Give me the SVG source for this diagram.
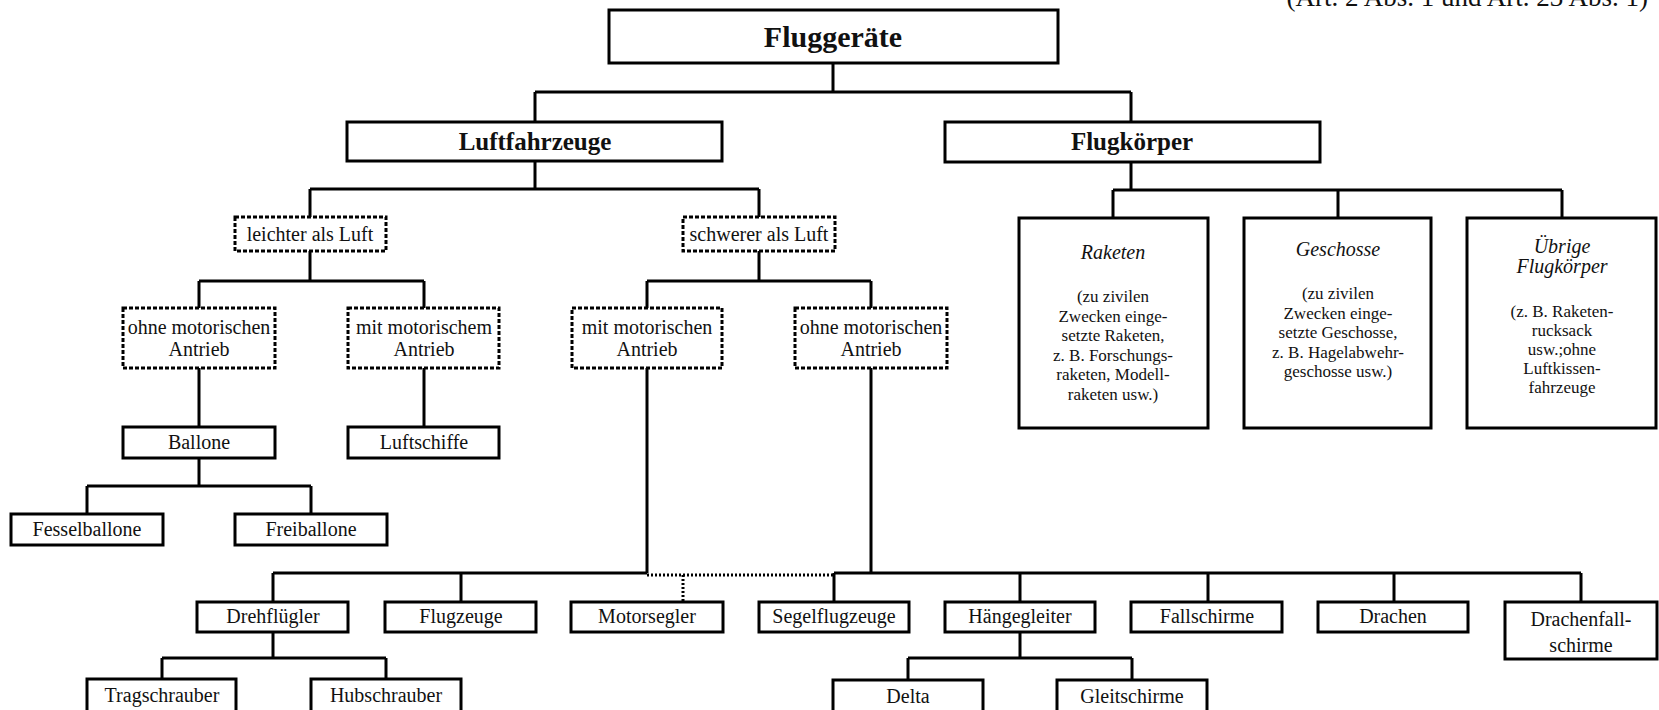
<svg xmlns="http://www.w3.org/2000/svg" width="1659" height="710" viewBox="0 0 1659 710">
<style>
text{font-family:"Liberation Serif","Times New Roman",serif;fill:#111;text-anchor:middle}
.b{fill:#fff;stroke:#000;stroke-width:3}
.d{fill:#fff;stroke:#000;stroke-width:3;stroke-dasharray:4 2}
.t{font-size:20px}
.s{font-size:17px}
.i{font-size:20px;font-style:italic}
.h{font-weight:bold}
.c path{fill:none;stroke:#000;stroke-width:3}
.c .dot{stroke-dasharray:2 2}
</style>
<rect width="1659" height="710" fill="#fff"/>
<text x="1648" y="6" style="font-size:27px;text-anchor:end">(Art. 2 Abs. 1 und Art. 23 Abs. 1)</text>
<g class="c" id="connectors">
<path d="M833 63V92M535 92H1131M535 92V122M1131 92V122"/>
<path d="M535 161V189M310 189H759M310 189V217M759 189V217"/>
<path d="M1131 162V190M1113 190H1562M1113 190V218M1338 190V218M1562 190V218"/>
<path d="M310 251V281M199 281H424M199 281V308M424 281V308"/>
<path d="M759 251V281M647 281H871M647 281V308M871 281V308"/>
<path d="M199 368V427M424 368V427"/>
<path d="M199 458V486M87 486H311M87 486V514M311 486V514"/>
<path d="M647 368V573M871 368V573"/>
<path d="M273 573H647M834 573H1581"/>
<path class="dot" d="M647 575H834M683 575V602"/>
<path d="M273 573V602M461 573V602M834 573V602M1020 573V602M1208 573V602M1394 573V602M1581 573V602"/>
<path d="M273 632V658M162 658H386M162 658V679M386 658V679"/>
<path d="M1020 632V658M908 658H1132M908 658V679M1132 658V679"/>
</g>
<g id="n-fluggeraete"><rect class="b" x="609" y="10" width="449" height="53"/><text class="h" x="833" y="47" style="font-size:30px">Fluggeräte</text></g>
<g id="n-luftfahrzeuge"><rect class="b" x="347" y="122" width="375" height="39"/><text class="h" x="535" y="150" style="font-size:25px">Luftfahrzeuge</text></g>
<g id="n-flugkoerper"><rect class="b" x="945" y="122" width="375" height="40"/><text class="h" x="1132" y="150" style="font-size:25px">Flugkörper</text></g>
<g id="n-leichter"><rect class="d" x="235" y="217" width="151" height="34"/><text class="t" x="310" y="241">leichter als Luft</text></g>
<g id="n-schwerer"><rect class="d" x="683" y="217" width="152" height="34"/><text class="t" x="759" y="241">schwerer als Luft</text></g>
<g id="n-ohne1"><rect class="d" x="123" y="308" width="152" height="60"/><text class="t" x="199" y="334">ohne motorischen</text><text class="t" x="199" y="356">Antrieb</text></g>
<g id="n-mit1"><rect class="d" x="348" y="308" width="151" height="60"/><text class="t" x="424" y="334">mit motorischem</text><text class="t" x="424" y="356">Antrieb</text></g>
<g id="n-mit2"><rect class="d" x="572" y="308" width="150" height="60"/><text class="t" x="647" y="334">mit motorischen</text><text class="t" x="647" y="356">Antrieb</text></g>
<g id="n-ohne2"><rect class="d" x="795" y="308" width="152" height="60"/><text class="t" x="871" y="334">ohne motorischen</text><text class="t" x="871" y="356">Antrieb</text></g>
<g id="n-raketen"><rect class="b" x="1019" y="218" width="189" height="210"/><text class="i" x="1113" y="259">Raketen</text><text class="s" x="1113" y="302">(zu zivilen</text><text class="s" x="1113" y="321.5">Zwecken einge-</text><text class="s" x="1113" y="341">setzte Raketen,</text><text class="s" x="1113" y="360.5">z. B. Forschungs-</text><text class="s" x="1113" y="380">raketen, Modell-</text><text class="s" x="1113" y="399.5">raketen usw.)</text></g>
<g id="n-geschosse"><rect class="b" x="1244" y="218" width="187" height="210"/><text class="i" x="1338" y="256">Geschosse</text><text class="s" x="1338" y="299">(zu zivilen</text><text class="s" x="1338" y="318.5">Zwecken einge-</text><text class="s" x="1338" y="338">setzte Geschosse,</text><text class="s" x="1338" y="357.5">z. B. Hagelabwehr-</text><text class="s" x="1338" y="377">geschosse usw.)</text></g>
<g id="n-uebrige"><rect class="b" x="1467" y="218" width="189" height="210"/><text class="i" x="1562" y="253">Übrige</text><text class="i" x="1562" y="273">Flugkörper</text><text class="s" x="1562" y="317">(z. B. Raketen-</text><text class="s" x="1562" y="336">rucksack</text><text class="s" x="1562" y="355">usw.;ohne</text><text class="s" x="1562" y="374">Luftkissen-</text><text class="s" x="1562" y="393">fahrzeuge</text></g>
<g id="n-ballone"><rect class="b" x="123" y="427" width="152" height="31"/><text class="t" x="199" y="449">Ballone</text></g>
<g id="n-luftschiffe"><rect class="b" x="348" y="427" width="151" height="31"/><text class="t" x="424" y="449">Luftschiffe</text></g>
<g id="n-fesselballone"><rect class="b" x="11" y="514" width="152" height="31"/><text class="t" x="87" y="536">Fesselballone</text></g>
<g id="n-freiballone"><rect class="b" x="235" y="514" width="152" height="31"/><text class="t" x="311" y="536">Freiballone</text></g>
<g id="n-drehfluegler"><rect class="b" x="197" y="602" width="151" height="30"/><text class="t" x="273" y="623">Drehflügler</text></g>
<g id="n-flugzeuge"><rect class="b" x="385" y="602" width="151" height="30"/><text class="t" x="461" y="623">Flugzeuge</text></g>
<g id="n-motorsegler"><rect class="b" x="571" y="602" width="152" height="30"/><text class="t" x="647" y="623">Motorsegler</text></g>
<g id="n-segelflugzeuge"><rect class="b" x="759" y="602" width="150" height="30"/><text class="t" x="834" y="623">Segelflugzeuge</text></g>
<g id="n-haengegleiter"><rect class="b" x="945" y="602" width="150" height="30"/><text class="t" x="1020" y="623">Hängegleiter</text></g>
<g id="n-fallschirme"><rect class="b" x="1131" y="602" width="151" height="30"/><text class="t" x="1207" y="623">Fallschirme</text></g>
<g id="n-drachen"><rect class="b" x="1318" y="602" width="150" height="30"/><text class="t" x="1393" y="623">Drachen</text></g>
<g id="n-drachenfallschirme"><rect class="b" x="1505" y="602" width="152" height="57"/><text class="t" x="1581" y="626">Drachenfall-</text><text class="t" x="1581" y="652">schirme</text></g>
<g id="n-tragschrauber"><rect class="b" x="87" y="679" width="149" height="40"/><text class="t" x="162" y="702">Tragschrauber</text></g>
<g id="n-hubschrauber"><rect class="b" x="311" y="679" width="150" height="40"/><text class="t" x="386" y="702">Hubschrauber</text></g>
<g id="n-delta"><rect class="b" x="833" y="680" width="150" height="40"/><text class="t" x="908" y="703">Delta</text></g>
<g id="n-gleitschirme"><rect class="b" x="1057" y="680" width="150" height="40"/><text class="t" x="1132" y="703">Gleitschirme</text></g>
</svg>
